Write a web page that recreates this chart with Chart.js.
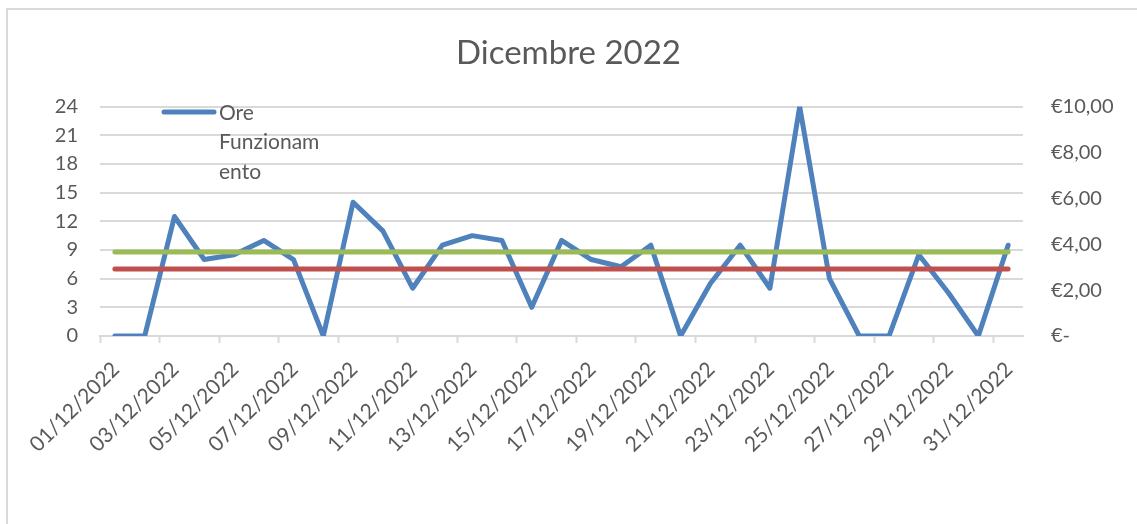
<!DOCTYPE html>
<html>
<head>
<meta charset="utf-8">
<script src="https://cdn.jsdelivr.net/npm/chart.js@4.4.1/dist/chart.umd.min.js"></script>
<style>
  html, body { margin: 0; padding: 0; background: #fff; }
  #wrap { position: relative; width: 1137px; height: 524px; overflow: hidden; }
  #frame { position: absolute; left: 6px; top: 8px; width: 1140px; height: 540px; border: 2px solid #d9d9d9; box-sizing: border-box; pointer-events: none; }
  canvas { position: absolute; left: 0; top: 0; }
</style>
</head>
<body>
<div id="wrap">
  <canvas id="chart" width="1137" height="524"></canvas>
  <div id="frame"></div>
</div>
<script>
// giorni di dicembre
const giorni = [
  "01/12/2022", "02/12/2022", "03/12/2022", "04/12/2022", "05/12/2022", "06/12/2022",
  "07/12/2022", "08/12/2022", "09/12/2022", "10/12/2022", "11/12/2022", "12/12/2022",
  "13/12/2022", "14/12/2022", "15/12/2022", "16/12/2022", "17/12/2022", "18/12/2022",
  "19/12/2022", "20/12/2022", "21/12/2022", "22/12/2022", "23/12/2022", "24/12/2022",
  "25/12/2022", "26/12/2022", "27/12/2022", "28/12/2022", "29/12/2022", "30/12/2022",
  "31/12/2022"
];

// ore di funzionamento al giorno
const oreFunzionamento = [
  0, 0, 12.5, 8, 8.5, 10, 8, 0, 14, 11, 5, 9.5, 10.5, 10, 3, 10,
  8, 7.25, 9.5, 0, 5.5, 9.5, 5, 24, 6, 0, 0, 8.5, 4.5, 0, 9.5
];

// linee orizzontali (asse ore)
const lineaRossa = giorni.map(() => 7);
const lineaVerde = giorni.map(() => 8.8);

const oreTicks = [0, 3, 6, 9, 12, 15, 18, 21, 24];
const euroTicks = [0, 2, 4, 6, 8, 10];

const grigio = "#595959";
const font = "Lato, 'Open Sans', sans-serif";

// legenda disegnata dentro l'area del grafico, testo su piu righe come in Excel
const legendaPlugin = {
  id: "legenda",
  afterDatasetsDraw(chart) {
    const ctx = chart.ctx;
    const ds = chart.data.datasets[0];
    ctx.save();
    ctx.strokeStyle = ds.borderColor;
    ctx.lineWidth = 5;
    ctx.lineCap = "round";
    ctx.beginPath();
    ctx.moveTo(164, 112);
    ctx.lineTo(214, 112);
    ctx.stroke();
    ctx.fillStyle = grigio;
    ctx.font = "21px " + font;
    ctx.textBaseline = "middle";
    ["Ore", "Funzionam", "ento"].forEach((t, i) => {
      ctx.fillText(t, 219, 113 + i * 29.5);
    });
    ctx.restore();
  }
};

new Chart(document.getElementById("chart"), {
  type: "line",
  data: {
    labels: giorni,
    datasets: [
      {
        label: "Ore Funzionamento",
        data: oreFunzionamento,
        borderColor: "#4f81bd",
        borderWidth: 5,
        pointRadius: 0,
        borderJoinStyle: "round",
        borderCapStyle: "round",
        yAxisID: "y",
        order: 3,
      },
      {
        label: "Media",
        data: lineaRossa,
        borderColor: "#c0504d",
        borderWidth: 5,
        pointRadius: 0,
        borderCapStyle: "round",
        yAxisID: "y",
        order: 2,
      },
      {
        label: "Soglia",
        data: lineaVerde,
        borderColor: "#9bbb59",
        borderWidth: 5,
        pointRadius: 0,
        borderCapStyle: "round",
        yAxisID: "y",
        order: 1,
      },
    ],
  },
  options: {
    responsive: false,
    animation: false,
    devicePixelRatio: 1,
    layout: { padding: 0 },
    plugins: {
      legend: { display: false },
      tooltip: { enabled: false },
      title: {
        display: true,
        text: "Dicembre 2022",
        color: grigio,
        font: { family: font, size: 33, weight: "normal" },
        padding: { top: 34, bottom: 33 },
      },
    },
    scales: {
      x: {
        offset: true,
        grid: {
          offset: true,
          drawOnChartArea: false,
          tickLength: 7,
          tickColor: (c) => (c.index % 2 === 0 ? "#d9d9d9" : "rgba(0,0,0,0)"),
          tickWidth: 2,
        },
        border: { color: "#d9d9d9", width: 2 },
        ticks: {
          autoSkip: false,
          minRotation: 45,
          maxRotation: 45,
          padding: 14,
          labelOffset: 1,
          color: grigio,
          font: { family: font, size: 21 },
          callback: function (v, i) {
            return i % 2 === 0 ? this.getLabelForValue(v) : "";
          },
        },
        afterFit: (s) => { s.height = 188; },
      },
      y: {
        position: "left",
        min: 0,
        max: 24,
        afterBuildTicks: (s) => { s.ticks = oreTicks.map((v) => ({ value: v })); },
        grid: { color: "#d9d9d9", lineWidth: 2, drawTicks: false },
        border: { display: false },
        ticks: {
          color: grigio,
          padding: 22,
          font: { family: font, size: 20 },
        },
        afterFit: (s) => { s.width = 100; },
      },
      y1: {
        position: "right",
        min: 0,
        max: 10,
        afterBuildTicks: (s) => { s.ticks = euroTicks.map((v) => ({ value: v })); },
        grid: { drawOnChartArea: false, drawTicks: false },
        border: { display: false },
        ticks: {
          color: grigio,
          padding: 28,
          font: { family: font, size: 20 },
          callback: (v) => (v === 0 ? "€-" : "€" + v.toFixed(2).replace(".", ",")),
        },
        afterFit: (s) => { s.width = 114; },
      },
    },
  },
  plugins: [legendaPlugin],
});
</script>
</body>
</html>
